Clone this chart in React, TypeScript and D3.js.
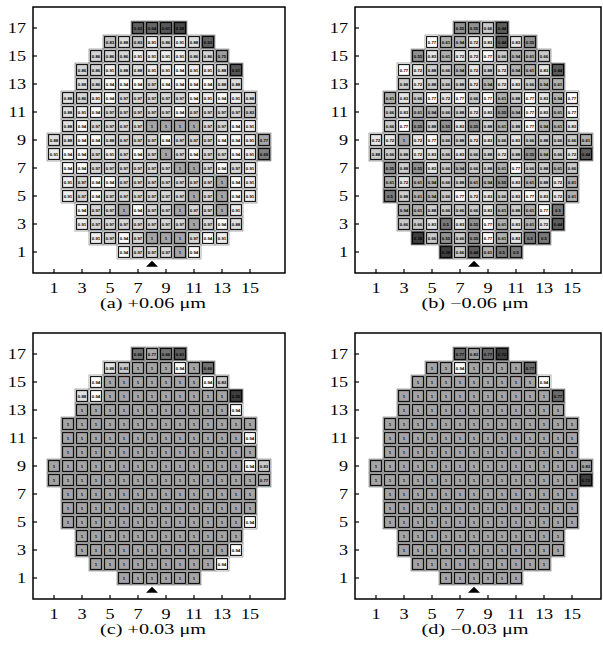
import React from "react";
import * as d3 from "d3";

// Wafer shape: row number (top to bottom), first column, number of dies
const rowNums = [17, 16, 15, 14, 13, 12, 11, 10, 9, 8, 7, 6, 5, 4, 3, 2, 1];
const rowStart = [7, 5, 4, 3, 3, 2, 2, 2, 1, 1, 2, 2, 2, 3, 3, 4, 6];

const xTicks = [1, 3, 5, 7, 9, 11, 13, 15];
const yTicks = [1, 3, 5, 7, 9, 11, 13, 15, 17];

const captions = ["(a) +0.06 μm", "(b) −0.06 μm", "(c) +0.03 μm", "(d) −0.03 μm"];

const valuesA: number[][] = [
  [0.63, 0.64, 0.61, 0.58],
  [0.83, 0.88, 0.83, 0.91, 0.86, 0.91, 0.88, 0.63],
  [0.86, 0.86, 0.86, 0.91, 0.91, 0.91, 0.91, 0.86, 0.86, 0.75],
  [0.86, 0.86, 0.91, 0.88, 0.88, 0.91, 0.91, 0.94, 0.91, 0.91, 0.88, 0.61],
  [0.88, 0.86, 0.94, 0.94, 0.94, 0.97, 0.94, 0.94, 0.94, 0.94, 0.88, 0.88],
  [0.88, 0.86, 0.91, 0.94, 0.97, 0.97, 0.97, 0.97, 0.97, 0.94, 0.91, 0.94, 0.91, 0.88],
  [0.88, 0.91, 0.94, 0.97, 0.97, 0.97, 0.97, 0.97, 0.94, 0.97, 0.97, 0.97, 0.97, 0.83],
  [0.88, 0.94, 0.97, 0.97, 0.97, 0.97, 1, 1, 1, 1, 0.97, 0.97, 0.94, 0.91],
  [0.88, 0.88, 0.94, 0.94, 0.88, 0.97, 0.97, 0.97, 0.94, 0.97, 0.97, 0.97, 0.94, 0.94, 0.91, 0.77],
  [0.91, 0.94, 0.94, 0.97, 0.91, 0.97, 0.94, 0.97, 1, 0.97, 0.94, 0.97, 0.97, 0.94, 0.91, 0.69],
  [0.94, 0.94, 0.97, 0.97, 0.97, 0.97, 0.97, 0.97, 1, 1, 0.97, 0.94, 0.97, 0.91],
  [0.91, 0.97, 0.94, 0.94, 0.97, 0.97, 0.97, 0.97, 0.97, 0.97, 0.97, 1, 0.94, 0.91],
  [0.91, 0.97, 0.94, 0.97, 0.97, 0.97, 0.97, 0.97, 0.97, 1, 0.97, 1, 0.94, 0.91],
  [0.94, 0.97, 0.97, 1, 0.94, 0.97, 0.97, 1, 0.97, 0.97, 1, 0.91],
  [0.91, 0.97, 0.97, 0.97, 0.97, 0.97, 0.97, 0.97, 1, 0.97, 0.94, 0.88],
  [0.91, 0.97, 0.94, 0.97, 1, 1, 1, 0.97, 0.94, 0.91],
  [0.94, 0.97, 0.97, 0.97, 1, 0.94],
];

const valuesB: number[][] = [
  [0.55, 0.55, 0.66, 0.44],
  [0.77, 0.61, 0.94, 0.72, 0.83, 0.44, 0.83, 0.55],
  [0.55, 0.83, 0.61, 0.72, 0.72, 0.77, 0.66, 0.94, 0.61, 0.66],
  [0.77, 0.72, 0.88, 0.66, 0.94, 0.72, 0.88, 0.72, 0.94, 0.61, 0.83, 0.44],
  [0.88, 0.72, 0.88, 0.66, 0.88, 0.72, 0.94, 0.72, 0.83, 0.66, 0.94, 0.61],
  [0.61, 0.83, 0.66, 0.77, 0.72, 0.77, 0.66, 0.77, 0.61, 0.88, 0.77, 0.83, 0.94, 0.77],
  [0.66, 0.83, 0.61, 0.94, 0.66, 0.88, 0.72, 0.83, 0.55, 0.94, 0.77, 0.83, 0.61, 0.77],
  [0.66, 0.77, 0.55, 0.88, 0.55, 0.83, 0.55, 0.88, 0.61, 0.88, 0.77, 0.94, 0.61, 0.83],
  [0.72, 0.72, 1, 0.72, 0.77, 0.66, 0.88, 0.72, 0.83, 0.66, 0.83, 0.66, 0.88, 0.66, 0.66, 0.61],
  [0.88, 0.66, 0.88, 0.72, 0.83, 0.66, 0.83, 0.66, 0.88, 0.72, 0.88, 0.55, 0.94, 0.66, 0.72, 0.44],
  [0.55, 0.88, 0.55, 0.83, 0.66, 0.94, 0.66, 0.88, 0.61, 0.77, 0.66, 0.88, 0.61, 0.66],
  [0.61, 0.72, 0.61, 0.94, 0.66, 0.88, 0.61, 0.94, 0.55, 0.83, 0.61, 0.88, 0.72, 0.61],
  [0.5, 0.88, 0.61, 0.94, 0.66, 0.77, 0.72, 0.83, 0.66, 0.83, 0.77, 0.83, 0.72, 0.61],
  [0.94, 0.61, 0.88, 0.66, 0.66, 0.66, 0.83, 0.61, 0.88, 0.61, 0.77, 0.5],
  [0.66, 0.66, 0.83, 0.5, 0.83, 0.55, 0.77, 0.61, 0.83, 0.61, 0.72, 0.44],
  [0.38, 0.66, 0.55, 0.66, 0.55, 0.77, 0.61, 0.83, 0.5, 0.5],
  [0.38, 0.66, 0.44, 0.61, 0.5, 0.5],
];

const valuesC: number[][] = [
  [0.66, 0.77, 0.66, 0.61],
  [0.88, 0.83, 1, 1, 1, 0.94, 1, 0.66],
  [0.94, 1, 1, 1, 1, 1, 1, 1, 0.94, 0.83],
  [0.88, 0.94, 1, 1, 1, 1, 1, 1, 1, 1, 1, 0.55],
  [1, 1, 1, 1, 1, 1, 1, 1, 1, 1, 1, 0.94],
  [1, 1, 1, 1, 1, 1, 1, 1, 1, 1, 1, 1, 1, 1],
  [1, 1, 1, 1, 1, 1, 1, 1, 1, 1, 1, 1, 1, 0.94],
  [1, 1, 1, 1, 1, 1, 1, 1, 1, 1, 1, 1, 1, 1],
  [1, 1, 1, 1, 1, 1, 1, 1, 1, 1, 1, 1, 1, 1, 0.94, 0.83],
  [1, 1, 1, 1, 1, 1, 1, 1, 1, 1, 1, 1, 1, 1, 1, 0.77],
  [1, 1, 1, 1, 1, 1, 1, 1, 1, 1, 1, 1, 1, 1],
  [1, 1, 1, 1, 1, 1, 1, 1, 1, 1, 1, 1, 1, 1],
  [1, 1, 1, 1, 1, 1, 1, 1, 1, 1, 1, 1, 1, 0.94],
  [1, 1, 1, 1, 1, 1, 1, 1, 1, 1, 1, 1],
  [1, 1, 1, 1, 1, 1, 1, 1, 1, 1, 1, 0.94],
  [1, 1, 1, 1, 1, 1, 1, 1, 1, 0.94],
  [1, 1, 1, 1, 1, 1],
];

const valuesD: number[][] = [
  [0.77, 0.83, 0.77, 0.72],
  [1, 1, 0.94, 1, 1, 1, 1, 0.77],
  [1, 1, 1, 1, 1, 1, 1, 1, 1, 0.94],
  [1, 1, 1, 1, 1, 1, 1, 1, 1, 1, 1, 0.77],
  [1, 1, 1, 1, 1, 1, 1, 1, 1, 1, 1, 1],
  [1, 1, 1, 1, 1, 1, 1, 1, 1, 1, 1, 1, 1, 1],
  [1, 1, 1, 1, 1, 1, 1, 1, 1, 1, 1, 1, 1, 1],
  [1, 1, 1, 1, 1, 1, 1, 1, 1, 1, 1, 1, 1, 1],
  [1, 1, 1, 1, 1, 1, 1, 1, 1, 1, 1, 1, 1, 1, 1, 0.83],
  [1, 1, 1, 1, 1, 1, 1, 1, 1, 1, 1, 1, 1, 1, 1, 0.72],
  [1, 1, 1, 1, 1, 1, 1, 1, 1, 1, 1, 1, 1, 1],
  [1, 1, 1, 1, 1, 1, 1, 1, 1, 1, 1, 1, 1, 1],
  [1, 1, 1, 1, 1, 1, 1, 1, 1, 1, 1, 1, 1, 1],
  [1, 1, 1, 1, 1, 1, 1, 1, 1, 1, 1, 1],
  [1, 1, 1, 1, 1, 1, 1, 1, 1, 1, 1, 1],
  [1, 1, 1, 1, 1, 1, 1, 1, 1, 1],
  [1, 1, 1, 1, 1, 1],
];

// colour scale break points per panel: [darkest, whitest, top]
const colorDomains = [
  [0.56, 0.945, 1],
  [0.38, 0.77, 0.97],
  [0.55, 0.94, 1],
  [0.72, 0.94, 1],
];

const panels = [valuesA, valuesB, valuesC, valuesD];

const W = 603;
const H = 647;
const offsets = [
  [0, 0],
  [322, 0],
  [0, 326],
  [322, 326],
];

const serif = "Liberation Serif, Times New Roman, Times, serif";
const SX = 1.3;

function Panel({ idx }: { idx: number }) {
  const values = panels[idx];
  const [ox, oy] = offsets[idx];
  const x = d3.scaleLinear().domain([-0.5, 17.5]).range([33, 285]);
  const y = d3.scaleLinear().domain([-0.5, 18.5]).range([273, 7]);
  const color = d3
    .scaleLinear<string>()
    .domain(colorDomains[idx])
    .range(["#3e3e3e", "#ffffff", "#a4a4a4"])
    .clamp(true);
  const frameRight = Math.min(x(17.5), W - 2 - ox);
  const cw = x(1) - x(0);
  const cells: { r: number; c: number; v: number }[] = [];
  rowNums.forEach((r, i) => {
    values[i].forEach((v, j) => cells.push({ r, c: rowStart[i] + j, v }));
  });
  const tx = x(8);
  const tri = d3.line()([
    [tx - 6, y(-0.05)],
    [tx + 6, y(-0.05)],
    [tx, y(0.37)],
  ]) + "Z";
  return (
    <g transform={`translate(${ox},${oy})`}>
      <rect x={x(-0.5)} y={y(18.5)} width={frameRight - x(-0.5)} height={y(-0.5) - y(18.5)} fill="#fff" stroke="#000" strokeWidth={1.5} />
      {cells.map((d, k) => {
        const x0 = x(d.c - 0.5);
        const y0 = y(d.r + 0.5);
        return (
          <g key={k}>
            <rect x={x0} y={y0} width={cw} height={cw} fill={color(d.v)} stroke="#8c8c8c" strokeWidth={0.7} />
            <rect x={x0 + 1.6} y={y0 + 1.6} width={cw - 3.2} height={cw - 3.2} fill="none" stroke="#000" strokeWidth={1} />
            <text x={x(d.c)} y={y(d.r) + 1.6} textAnchor="middle" fontSize={4.3} fontFamily="Liberation Sans, Arial, sans-serif" fontWeight="bold" fill="#000">
              {String(d.v)}
            </text>
          </g>
        );
      })}
      <path d={tri} fill="#000" />
      {yTicks.map((t) => (
        <g key={"y" + t}>
          <line x1={x(-0.5)} x2={x(-0.5) + 4} y1={y(t)} y2={y(t)} stroke="#000" strokeWidth={1.2} />
          <text transform={`translate(${x(-0.5) - 7},${y(t) + 4.6}) scale(${SX},1)`} textAnchor="end" fontSize={14} fontFamily={serif} fill="#000">
            {t}
          </text>
        </g>
      ))}
      {xTicks.map((t) => (
        <g key={"x" + t}>
          <line x1={x(t)} x2={x(t)} y1={y(-0.5)} y2={y(-0.5) - 4} stroke="#000" strokeWidth={1.2} />
          <text transform={`translate(${x(t)},${y(-0.5) + 19.6}) scale(${SX},1)`} textAnchor="middle" fontSize={14} fontFamily={serif} fill="#000">
            {t}
          </text>
        </g>
      ))}
      <text transform={`translate(153,308) scale(1.35,1)`} textAnchor="middle" fontSize={15} fontFamily={serif} fill="#000">
        {captions[idx]}
      </text>
    </g>
  );
}

export default function App() {
  return (
    <svg width={W} height={H} viewBox={`0 0 ${W} ${H}`} style={{ display: "block", position: "absolute", left: 0, top: 0, background: "#fff" }}>
      <rect width={W} height={H} fill="#fff" />
      {[0, 1, 2, 3].map((i) => (
        <Panel key={i} idx={i} />
      ))}
    </svg>
  );
}
